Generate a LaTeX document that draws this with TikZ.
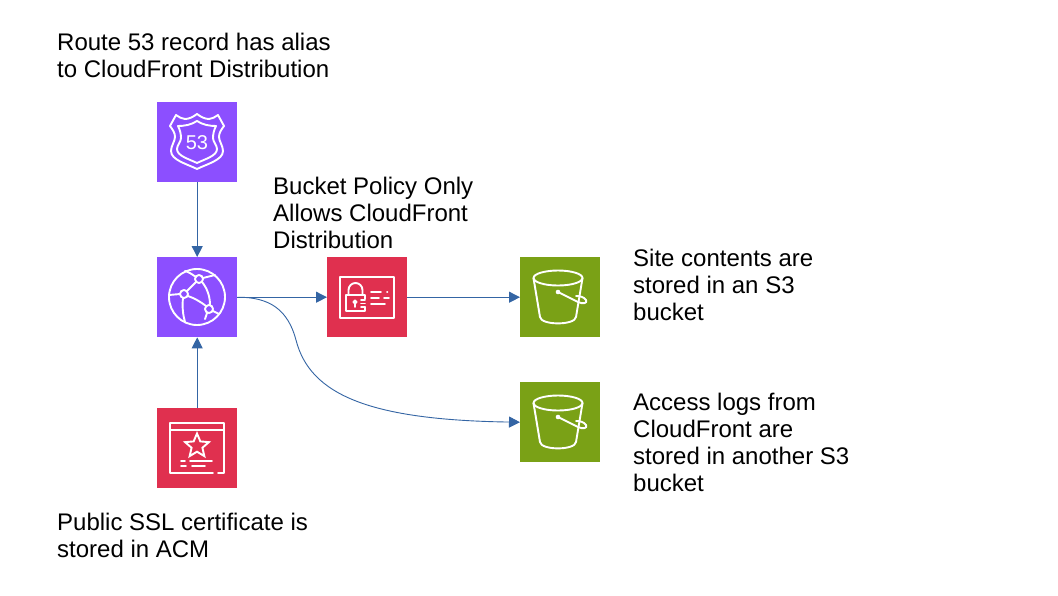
\documentclass[tikz,border=0pt]{standalone}
\usepackage{fontspec}
\setmainfont{Liberation Sans}
\usetikzlibrary{arrows.meta,shapes.geometric}
\definecolor{awspurple}{HTML}{8C4FFF}
\definecolor{awsred}{HTML}{E0304F}
\definecolor{awsgreen}{HTML}{7AA116}
\definecolor{linkblue}{HTML}{3465A4}
\tikzset{
  icon/.style={rectangle,draw=none,minimum size=80pt,inner sep=0pt,anchor=north west},
  glyph/.style={draw=white,line width=1.9pt,line cap=round,line join=round,fill=none},
  label/.style={anchor=north west,inner sep=0pt,align=left,font=\fontsize{24}{27}\selectfont,text=black},
  link/.style={draw=linkblue,line width=0.9pt,-{Stealth[length=11pt,width=11pt,inset=0pt]}}
}
\begin{document}
\begin{tikzpicture}[x=1pt,y=-1pt]
\useasboundingbox (0,0) rectangle (1058,595);
\fill[white] (0,0) rectangle (1058,595);
% icons
\node[icon,fill=awspurple] (r53) at (157,102) {};
\node[icon,fill=awspurple] (cf) at (157,257) {};
\node[icon,fill=awsred] (acm) at (157,408) {};
\node[icon,fill=awsred] (policy) at (327,257) {};
\node[icon,fill=awsgreen] (siteb) at (520,257) {};
\node[icon,fill=awsgreen] (logb) at (520,382) {};
% Route 53 glyph
\begin{scope}[shift={(r53.north west)}]
  \draw[glyph] (40,12) .. controls (44,15) and (48,17) .. (52,17) .. controls (55,17) and (58,15) .. (61,13) -- (67,24) .. controls (64,28) and (62,31) .. (62,35) .. controls (62,39) and (66,44) .. (66,49) .. controls (66,58) and (50,62) .. (40,67) .. controls (30,62) and (14,58) .. (14,49) .. controls (14,44) and (18,39) .. (18,35) .. controls (18,31) and (16,28) .. (13,24) -- (19,13) .. controls (22,15) and (25,17) .. (28,17) .. controls (32,17) and (36,15) .. (40,12) -- cycle;
  \draw[glyph] (40,19) .. controls (46,23) and (53,24) .. (59,24) .. controls (57,28) and (56,32) .. (56,36) .. controls (56,40) and (60,43) .. (60,47) .. controls (60,54) and (48,57) .. (40,61) .. controls (32,57) and (20,54) .. (20,47) .. controls (20,43) and (24,40) .. (24,36) .. controls (24,32) and (23,28) .. (21,24) .. controls (27,24) and (34,23) .. (40,19) -- cycle;
  \node[text=white,inner sep=0pt,font=\fontsize{20}{20}\selectfont] (r53num) at (40,41) {53};
\end{scope}
% CloudFront glyph
\begin{scope}[shift={(cf.north west)}]
  \draw[glyph] (40,40) circle (28);
  \draw[glyph] (42,22) circle (4);
  \draw[glyph] (27,37) circle (4);
  \draw[glyph] (52,52) circle (4);
  \draw[glyph] (30,34) -- (39,25);
  \draw[glyph] (31,39) .. controls (37,41) and (44,45) .. (49,49);
  \draw[glyph] (45,25) .. controls (50,31) and (53,39) .. (53,48);
  \draw[glyph] (39,20) .. controls (36,18) and (32,15) .. (28,14);
  \draw[glyph] (46,21) .. controls (50,20) and (54,19) .. (58,18);
  \draw[glyph] (12,38) -- (23,37);
  \draw[glyph] (26,41) .. controls (25,50) and (26,58) .. (28,65);
  \draw[glyph] (50,56) -- (48,62);
  \draw[glyph] (56,54) -- (62,57);
\end{scope}
% ACM glyph
\begin{scope}[shift={(acm.north west)}]
  \draw[glyph] (56,65) -- (13,65) -- (13,15) -- (67,15) -- (67,65) -- (61,65);
  \draw[glyph] (13,22) -- (67,22);
  \node[star,star points=5,star point ratio=2.2,draw=white,line width=1.9pt,fill=none,minimum size=25pt,inner sep=0pt] (acmstar) at (40,38) {};
  \draw[glyph] (24,53) -- (28,53) (33,53) -- (55,53);
  \draw[glyph] (24,58) -- (29,58) (35,58) -- (48,58);
\end{scope}
% Policy glyph
\begin{scope}[shift={(policy.north west)}]
  \draw[glyph] (13,20) rectangle (67,61);
  \draw[glyph] (38,42) -- (38,38) -- (19,38) -- (19,54) -- (38,54) -- (38,50);
  \draw[glyph] (21.5,38) -- (21.5,33) arc[start angle=180,end angle=360,radius=7] -- (35.5,38);
  \draw[glyph] (28,45) circle (1.6);
  \draw[glyph] (28,47) -- (28,50);
  \draw[glyph] (34,43) -- (38,43) (34,46.5) -- (38,46.5) (34,50) -- (38,50);
  \draw[glyph] (44,35) -- (54,35) (60,35) -- (60.5,35);
  \draw[glyph] (44,41) -- (52,41) (57,41) -- (62,41);
  \draw[glyph] (44,47) -- (58,47);
\end{scope}
% S3 glyphs
\foreach \b in {siteb,logb}{
\begin{scope}[shift={(\b.north west)}]
  \draw[glyph] (38,21) ellipse [x radius=24.5,y radius=7.5];
  \draw[glyph] (13.5,21) -- (20,60) .. controls (21,68.5) and (55,68.5) .. (56,60) -- (62.5,21);
  \draw[glyph] (38,35) -- (58,45) .. controls (63,47.5) and (68,46) .. (66,43) .. controls (64,40) and (60,39) .. (56,39);
  \fill[white] (38,35) circle (2.3);
\end{scope}
}
% connectors
\draw[link] (r53.south) -- (cf.north);
\draw[link] (acm.north) -- (cf.south);
\draw[link] (cf.east) -- (policy.west);
\draw[link] (policy.east) -- (siteb.west);
\draw[link] (cf.east) .. controls (270,297) and (288,310) .. (296,340) .. controls (310,395) and (370,420) .. (logb.west);
% labels
\node[label] (t1) at (57,33) {Route 53 record has alias\\to CloudFront Distribution};
\node[label] (t2) at (273,177) {Bucket Policy Only\\Allows CloudFront\\Distribution};
\node[label] (t3) at (633,249) {Site contents are\\stored in an S3\\bucket};
\node[label] (t4) at (633,393) {Access logs from\\CloudFront are\\stored in another S3\\bucket};
\node[label] (t5) at (57,513) {Public SSL certificate is\\stored in ACM};
\end{tikzpicture}
\end{document}
